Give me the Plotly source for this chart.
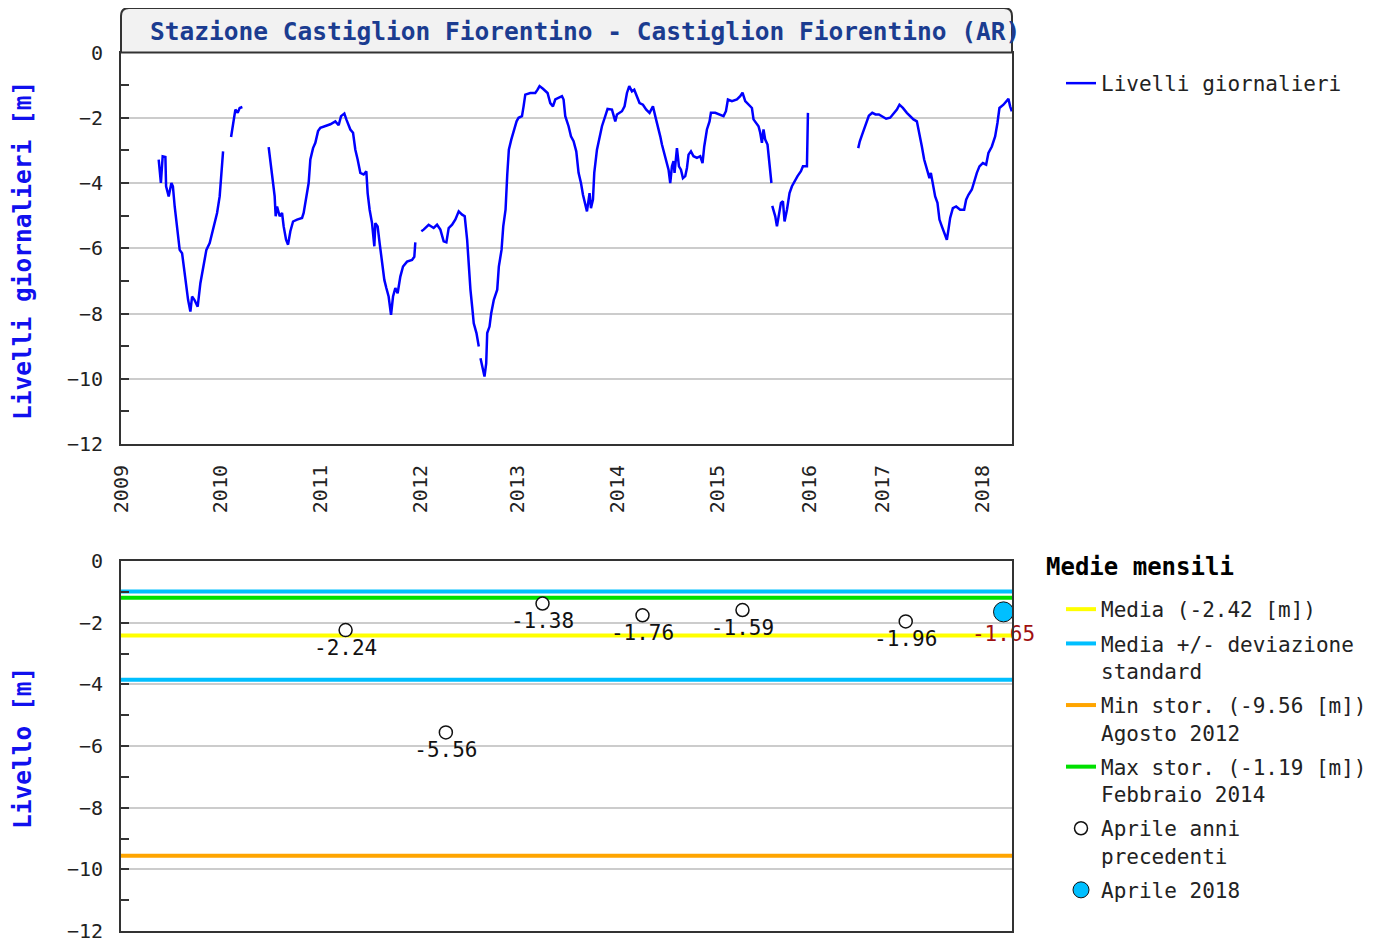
import pandas as pd
import plotly.graph_objects as go

# livelli giornalieri: anno decimale (None = interruzione della serie)
anni_giornalieri = [
    2009.377, 2009.389, 2009.399, 2009.417, 2009.444, 2009.451, 2009.477, 2009.504, 2009.519, 2009.537,
    2009.567, 2009.587, 2009.611, 2009.644, 2009.671, 2009.694, 2009.711, 2009.734, 2009.767, 2009.794,
    2009.821, 2009.854, 2009.887, 2009.921, 2009.961, 2009.987, 2010.001, 2010.021, None,
    2010.101, 2010.117, 2010.127, 2010.144, 2010.167, 2010.187, 2010.214, None,
    2010.477, 2010.494, 2010.521, 2010.537, 2010.547, 2010.561, 2010.587, 2010.611, 2010.627, 2010.651,
    2010.671, 2010.694, 2010.721, 2010.761, 2010.811, 2010.827, 2010.851, 2010.877, 2010.894, 2010.921,
    2010.944, 2010.971, 2010.994, 2011.044, 2011.094, 2011.144, 2011.177, 2011.201, 2011.234, 2011.254,
    2011.294, 2011.321, 2011.344, 2011.367, 2011.394, 2011.427, 2011.454, 2011.467, 2011.487, 2011.511,
    2011.534, 2011.544, 2011.567, 2011.587, 2011.611, 2011.634, 2011.654, 2011.677, 2011.701, 2011.721,
    2011.744, 2011.767, 2011.794, 2011.821, 2011.861, 2011.911, 2011.934, 2011.944, None,
    2012.004, 2012.027, 2012.077, 2012.127, 2012.161, 2012.194, 2012.227, 2012.254, 2012.277, 2012.311,
    2012.344, 2012.377, 2012.411, 2012.437, 2012.461, 2012.477, 2012.494, 2012.511, 2012.527, 2012.554,
    2012.610, None,
    2012.627, 2012.644, 2012.667, 2012.684, 2012.694, 2012.717, 2012.734, 2012.760, 2012.794, 2012.810,
    2012.837, 2012.854, 2012.877, 2012.894, 2012.910, 2012.934, 2012.960, 2012.987, 2013.007, 2013.041,
    2013.057, 2013.074, 2013.124, 2013.174, 2013.197, 2013.217, 2013.251, 2013.297, 2013.324, 2013.351,
    2013.374, 2013.407, 2013.441, 2013.457, 2013.474, 2013.507, 2013.531, 2013.557, 2013.584, 2013.607,
    2013.631, 2013.651, 2013.674, 2013.691, 2013.717, 2013.731, 2013.751, 2013.764, 2013.791, 2013.817,
    2013.841, 2013.874, 2013.897, 2013.941, 2013.974, 2013.991, 2014.041, 2014.067, 2014.091, 2014.114,
    2014.141, 2014.164, 2014.191, 2014.217, 2014.251, 2014.284, 2014.317, 2014.351, 2014.374, 2014.397,
    2014.424, 2014.441, 2014.464, 2014.484, 2014.507, 2014.524, 2014.541, 2014.557, 2014.567, 2014.591,
    2014.611, 2014.631, 2014.651, 2014.674, 2014.691, 2014.707, 2014.731, 2014.757, 2014.791, 2014.824,
    2014.847, 2014.864, 2014.891, 2014.917, 2014.931, 2014.974, 2015.024, 2015.057, 2015.081, 2015.101,
    2015.141, 2015.191, 2015.224, 2015.247, 2015.274, 2015.307, 2015.341, 2015.357, 2015.384, 2015.407,
    2015.424, 2015.441, 2015.457, 2015.474, 2015.497, 2015.517, 2015.531, 2015.536, None,
    2015.632, 2015.662, 2015.679, 2015.695, 2015.719, 2015.739, 2015.755, 2015.779, 2015.805, 2015.829,
    2015.862, 2015.885, 2015.919, 2015.939, 2015.979, 2015.989, None,
    2016.761, 2016.777, 2016.801, 2016.824, 2016.844, 2016.867, 2016.901, 2016.934, 2016.967, 2016.999,
    2017.040, 2017.080, 2017.107, 2017.147, 2017.173, 2017.207, 2017.247, 2017.280, 2017.313, 2017.347,
    2017.373, 2017.397, 2017.420, 2017.447, 2017.473, 2017.487, 2017.507, 2017.530, 2017.553, 2017.573,
    2017.597, 2017.620, 2017.647, 2017.663, 2017.680, 2017.707, 2017.740, 2017.780, 2017.820, 2017.840,
    2017.863, 2017.897, 2017.920, 2017.947, 2017.973, 2018.007, 2018.040, 2018.063, 2018.097, 2018.130,
    2018.153, 2018.173, 2018.213, 2018.247, 2018.263, 2018.280, 2018.297,
]
livelli_giornalieri = [
    -3.28, -3.64, -4.00, -3.18, -3.20, -4.10, -4.41, -4.00, -4.10, -4.72,
    -5.43, -6.05, -6.15, -6.97, -7.58, -7.94, -7.48, -7.58, -7.79, -7.07,
    -6.61, -6.05, -5.84, -5.43, -4.92, -4.41, -3.80, -3.03, None,
    -2.59, -2.26, -1.95, -1.75, -1.85, -1.70, -1.67, None,
    -2.90, -3.39, -4.00, -4.41, -5.02, -4.72, -5.02, -4.92, -5.33, -5.74,
    -5.89, -5.48, -5.18, -5.12, -5.07, -4.92, -4.51, -4.00, -3.28, -2.93,
    -2.77, -2.41, -2.31, -2.26, -2.20, -2.11, -2.23, -1.95, -1.87, -2.05,
    -2.36, -2.46, -2.98, -3.28, -3.69, -3.74, -3.64, -4.31, -4.82, -5.23,
    -5.94, -5.23, -5.33, -5.84, -6.46, -6.97, -7.22, -7.48, -8.04, -7.48,
    -7.22, -7.38, -6.87, -6.56, -6.41, -6.36, -6.26, -5.82, None,
    -5.48, -5.43, -5.28, -5.38, -5.28, -5.43, -5.79, -5.82, -5.38, -5.28,
    -5.12, -4.87, -4.97, -5.02, -5.74, -6.56, -7.27, -7.79, -8.30, -8.60,
    -9.01, None,
    -9.37, -9.58, -9.93, -9.53, -8.60, -8.40, -7.99, -7.58, -7.27, -6.56,
    -6.05, -5.33, -4.82, -3.74, -2.98, -2.67, -2.41, -2.11, -2.00, -1.95,
    -1.65, -1.29, -1.24, -1.24, -1.14, -1.03, -1.11, -1.24, -1.55, -1.65,
    -1.44, -1.39, -1.34, -1.44, -1.95, -2.26, -2.57, -2.72, -3.03, -3.69,
    -4.00, -4.36, -4.61, -4.87, -4.31, -4.77, -4.51, -3.69, -2.98, -2.57,
    -2.26, -1.95, -1.73, -1.75, -2.11, -1.90, -1.80, -1.65, -1.24, -1.03,
    -1.19, -1.14, -1.34, -1.55, -1.60, -1.75, -1.85, -1.65, -1.95, -2.21,
    -2.57, -2.82, -3.08, -3.28, -3.59, -4.00, -3.49, -3.33, -3.69, -2.93,
    -3.49, -3.59, -3.85, -3.79, -3.54, -3.13, -3.03, -3.18, -3.23, -3.18,
    -3.39, -2.88, -2.36, -2.11, -1.85, -1.85, -1.90, -1.95, -1.80, -1.44,
    -1.49, -1.44, -1.34, -1.23, -1.49, -1.60, -1.70, -2.05, -2.16, -2.26,
    -2.46, -2.77, -2.36, -2.67, -2.82, -3.39, -4.00, -4.00, None,
    -4.70, -5.02, -5.33, -5.07, -4.61, -4.56, -5.18, -4.82, -4.31, -4.10,
    -3.90, -3.79, -3.64, -3.49, -3.49, -1.85, None,
    -2.93, -2.72, -2.51, -2.31, -2.11, -1.94, -1.85, -1.90, -1.90, -1.95,
    -2.03, -2.00, -1.90, -1.75, -1.60, -1.70, -1.85, -1.95, -2.05, -2.11,
    -2.46, -2.88, -3.28, -3.59, -3.85, -3.69, -4.00, -4.41, -4.61, -5.12,
    -5.33, -5.53, -5.74, -5.43, -5.07, -4.77, -4.72, -4.82, -4.82, -4.51,
    -4.36, -4.20, -3.95, -3.69, -3.49, -3.39, -3.44, -3.08, -2.88, -2.57,
    -2.16, -1.70, -1.60, -1.49, -1.42, -1.65, -1.80,
]

# medie mensili di aprile
date_aprile = ["2011-04-01", "2012-04-01", "2013-04-01", "2014-04-01", "2015-04-01", "2017-03-28"]
medie_aprile = [-2.24, -5.56, -1.38, -1.76, -1.59, -1.96]
data_aprile_2018 = "2018-03-20"
media_aprile_2018 = -1.65

media_storica = -2.42
deviazione_std = 1.43
min_storico = -9.56
max_storico = -1.19

anni_tick = list(range(2009, 2019))

# periodi senza registrazioni, compressi sull'asse
periodi_mancanti = [
    ["2012-07-22", "2012-08-03"],
    ["2015-07-16", "2015-08-17"],
    ["2016-03-01", "2016-06-08"],
]


def anno_a_data(a):
    if a is None:
        return None
    y = int(a)
    inizio = pd.Timestamp(year=y, month=1, day=1)
    giorni = (pd.Timestamp(year=y + 1, month=1, day=1) - inizio).days
    return (inizio + pd.Timedelta(days=(a - y) * giorni)).strftime("%Y-%m-%d %H:%M")


# la pagina ha 8 px di margine: le posizioni sono date in pixel della finestra
OFF = 8
W, H = 1381 - OFF, 943 - OFF
MONO = "DejaVu Sans Mono"


def fx(p):
    return (p - OFF) / W


def fy(p):
    return 1 - (p - OFF) / H


X0, X1 = fx(121), fx(1012)

fig = go.Figure()

fig.add_trace(go.Scatter(
    x=[anno_a_data(a) for a in anni_giornalieri], y=livelli_giornalieri,
    mode="lines", name="Livelli giornalieri", connectgaps=False, showlegend=True,
    line=dict(color="#0000ff", width=2.5), legend="legend",
))

fig.add_trace(go.Scatter(
    x=date_aprile, y=medie_aprile, xaxis="x2", yaxis="y2",
    mode="markers+text", name="Aprile anni<br>precedenti",
    text=[f"{v:.2f}" for v in medie_aprile], textposition="bottom center",
    textfont=dict(family=MONO, size=21, color="#111"), cliponaxis=False,
    marker=dict(symbol="circle", size=13, color="white", line=dict(color="#111", width=1.5)),
    legend="legend2", legendrank=5, legendgroup="prec", showlegend=True,
))
fig.add_trace(go.Scatter(
    x=[data_aprile_2018], y=[media_aprile_2018], xaxis="x2", yaxis="y2",
    mode="markers+text", name="Aprile 2018",
    text=[f"{media_aprile_2018:.2f}"], textposition="bottom center",
    textfont=dict(family=MONO, size=21, color="#a01010"), cliponaxis=False,
    marker=dict(symbol="circle", size=20, color="#00bfff", line=dict(color="#111", width=1)),
    legend="legend2", legendrank=6, legendgroup="2018", showlegend=True,
))

linee = [
    (media_storica, "#ffff00", f"Media ({media_storica:.2f} [m])", 1, True),
    (media_storica + deviazione_std, "#00bfff", "Media +/- deviazione<br>standard", 2, True),
    (media_storica - deviazione_std, "#00bfff", "Media +/- deviazione<br>standard", 2, False),
    (min_storico, "#ffa500", f"Min stor. ({min_storico:.2f} [m])<br>Agosto 2012", 3, True),
    (max_storico, "#00e000", f"Max stor. ({max_storico:.2f} [m])<br>Febbraio 2014", 4, True),
]
for valore, colore, nome, rank, mostra in linee:
    fig.add_shape(
        type="line", xref="x2 domain", yref="y2", x0=0, x1=1, y0=valore, y1=valore,
        line=dict(color=colore, width=4), layer="below",
        name=nome, showlegend=mostra, legend="legend2", legendrank=rank, legendgroup=nome,
    )

asse_x = dict(
    type="date", range=["2009-01-01", "2018-04-20"],
    rangebreaks=[dict(bounds=b) for b in periodi_mancanti],
    showgrid=False, zeroline=False, showline=True, mirror=True,
    linecolor="#333", linewidth=2, ticks="", automargin=False,
)
asse_y = dict(
    range=[-12, 0], tick0=0, dtick=2, ticks="inside", ticklen=8, tickwidth=1.5, tickcolor="#333",
    minor=dict(ticks="inside", ticklen=8, dtick=1, tickwidth=1.5, tickcolor="#333", showgrid=False),
    showgrid=True, gridcolor="#cccccc", gridwidth=2, zeroline=False,
    showline=True, mirror=True, linecolor="#333", linewidth=2,
    tickfont=dict(family=MONO, size=20, color="#222"), ticklabelstandoff=12, automargin=False,
)

fig.update_layout(
    width=W, height=H, margin=dict(l=0, r=0, t=0, b=0),
    paper_bgcolor="white", plot_bgcolor="white", showlegend=True,
    font=dict(family=MONO, size=20, color="#222"),
    xaxis=dict(
        asse_x, domain=[X0, X1], anchor="y",
        tickmode="array", tickvals=[f"{a}-01-01" for a in anni_tick], ticktext=[str(a) for a in anni_tick],
        tickangle=-90, tickfont=dict(family=MONO, size=20, color="#222"), ticklabelstandoff=11,
    ),
    yaxis=dict(asse_y, domain=[fy(444), fy(52.5)], anchor="x"),
    xaxis2=dict(asse_x, domain=[X0, X1], anchor="y2", showticklabels=False),
    yaxis2=dict(asse_y, domain=[fy(931), fy(561)], anchor="x2"),
    legend=dict(
        x=fx(1061), y=fy(63), xanchor="left", yanchor="top", bgcolor="rgba(0,0,0,0)",
        font=dict(family=MONO, size=21, color="#222"),
    ),
    legend2=dict(
        x=fx(1061), y=fy(589), xanchor="left", yanchor="top", bgcolor="rgba(0,0,0,0)",
        font=dict(family=MONO, size=21, color="#222"), valign="top", tracegroupgap=4,
    ),
)

# riquadro del titolo con angoli superiori arrotondati
yt, yb = fy(8), fy(52.5)
dx, dy = 8 / W, 8 / H
fig.add_shape(
    type="path", xref="paper", yref="paper", layer="above",
    path=(f"M{X0},{yb} L{X0},{yt - dy} Q{X0},{yt} {X0 + dx},{yt} L{X1 - dx},{yt} "
          f"Q{X1},{yt} {X1},{yt - dy} L{X1},{yb} Z"),
    fillcolor="#f2f2f2", line=dict(color="#333", width=2),
)
fig.add_annotation(
    x=fx(148), y=fy(32), xref="paper", yref="paper", xanchor="left", yanchor="middle", showarrow=False,
    text="Stazione Castiglion Fiorentino - Castiglion Fiorentino (AR)",
    font=dict(family=MONO, size=24.5, color="#1b3c90", weight="bold"),
)
fig.add_annotation(
    x=fx(1044), y=fy(567), xref="paper", yref="paper", xanchor="left", yanchor="middle", showarrow=False,
    text="Medie mensili", font=dict(family=MONO, size=24, color="#000", weight="bold"),
)
for testo, centro in [("Livelli giornalieri [m]", 251), ("Livello [m]", 748)]:
    fig.add_annotation(
        x=fx(22), y=fy(centro), xref="paper", yref="paper", xanchor="center", yanchor="middle",
        showarrow=False, textangle=-90, text=testo,
        font=dict(family=MONO, size=24.5, color="#1010ee", weight="bold"),
    )

fig.write_html("out.html")
